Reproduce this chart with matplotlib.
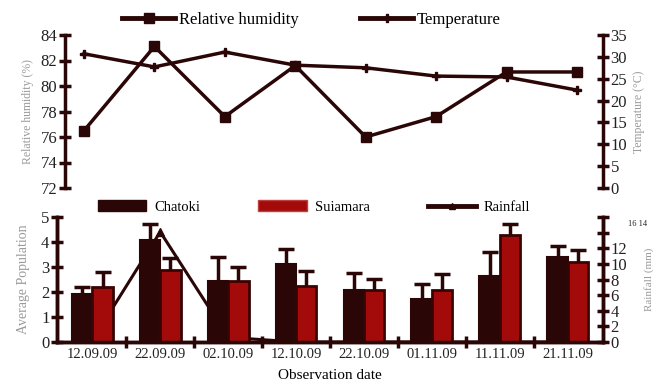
import matplotlib
matplotlib.use("Agg")
import matplotlib.pyplot as plt
import numpy as np
from matplotlib.lines import Line2D
from matplotlib.patches import Patch

dates = ["12.09.09", "22.09.09", "02.10.09", "12.10.09",
         "22.10.09", "01.11.09", "11.11.09", "21.11.09"]

humidity = [76.5, 83.1, 77.6, 81.6, 76.0, 77.6, 81.1, 81.1]
temperature = [30.7, 27.7, 31.1, 28.1, 27.5, 25.6, 25.4, 22.4]

chatoki = [1.92, 4.08, 2.44, 3.12, 2.08, 1.72, 2.64, 3.40]
chatoki_err = [0.28, 0.64, 0.96, 0.60, 0.68, 0.60, 0.96, 0.44]
suiamara = [2.20, 2.88, 2.44, 2.24, 2.08, 2.08, 4.28, 3.20]
suiamara_err = [0.60, 0.48, 0.56, 0.60, 0.44, 0.64, 0.44, 0.48]
rainfall = [0.2, 14.1, 0.6, 0.0, 0.0, 0.0, 0.0, 0.0]

dark = "#2a0606"
red = "#a30b0b"
grey = "#9a9a9a"

plt.rcParams["font.family"] = ["Liberation Serif", "DejaVu Serif"]
plt.rcParams["font.size"] = 10.5

x = np.arange(len(dates))

fig = plt.figure(figsize=(6.66, 3.9), dpi=100)

# top panel: humidity + temperature
ax_top = fig.add_axes([65/666, 1-188/390, 538/666, 153/390])
ax_temp = ax_top.twinx()

ax_top.plot(x, humidity, color=dark, lw=2.5, marker="s", ms=7, zorder=3)
ax_temp.plot(x, temperature, color=dark, lw=2.5, marker="P", ms=6)

ax_top.set_xlim(-0.27, 7.37)
ax_top.set_ylim(72, 84)
ax_top.set_yticks(np.arange(72, 85, 2))
ax_temp.set_ylim(0, 35)
ax_temp.set_yticks(np.arange(0, 36, 5))
ax_top.set_xticks([])

for a in (ax_top, ax_temp):
    for s in ("top", "bottom"):
        a.spines[s].set_visible(False)
    for s in ("left", "right"):
        a.spines[s].set_linewidth(2.5)
        a.spines[s].set_color(dark)
    a.tick_params(axis="y", direction="inout", length=9, width=2.5,
                  color=dark, pad=1, labelcolor="#222222", labelsize=12)
ax_temp.spines["left"].set_visible(False)
ax_top.spines["right"].set_visible(False)

ax_top.set_ylabel("Relative humidity (%)", color=grey, fontsize=8.5, labelpad=5)
ax_temp.set_ylabel("Temperature (°C)", color=grey, fontsize=8.5,
                   rotation=90, labelpad=4)

# bottom panel: population bars + rainfall
ax_bot = fig.add_axes([57/666, 1-342/390, 546/666, 125/390])
ax_rain = ax_bot.twinx()
ax_rain.set_zorder(ax_bot.get_zorder() - 1)
ax_bot.patch.set_visible(False)

w = 0.3
wet = [i for i, v in enumerate(rainfall) if v > 1]
ax_rain.plot(x, rainfall, color=dark, lw=2.2, marker="^", ms=6, markevery=wet)

ax_bot.errorbar(x - w/2, chatoki, yerr=chatoki_err, fmt="none",
                ecolor=dark, elinewidth=2.5, capsize=6, capthick=2.5, zorder=1)
ax_bot.errorbar(x + w/2, suiamara, yerr=suiamara_err, fmt="none",
                ecolor=dark, elinewidth=2.5, capsize=6, capthick=2.5, zorder=1)
ax_bot.bar(x - w/2, chatoki, w, color=dark, edgecolor=dark, lw=1.5, zorder=2)
ax_bot.bar(x + w/2, suiamara, w, color=red, edgecolor="#3a0303", lw=2, zorder=2)

ax_bot.set_xlim(-0.52, 7.52)
ax_bot.set_ylim(0, 5)
ax_bot.set_yticks(np.arange(0, 6, 1))
ax_bot.set_xticks(x)
ax_bot.set_xticklabels(dates)
ax_bot.set_xticks(x[:-1] + 0.5, minor=True)
ax_bot.tick_params(axis="x", which="major", length=0, pad=4, labelcolor="#222222")
ax_bot.tick_params(axis="x", which="minor", direction="inout", length=9,
                   width=2.5, color=dark)

ax_rain.set_ylim(0, 16)
ax_rain.set_yticks(np.arange(0, 17, 2))
ax_rain.set_yticklabels([str(v) for v in range(0, 13, 2)] + ["", ""])
ax_rain.text(1.045, 14.6 / 16, "16 14", transform=ax_rain.transAxes,
             fontsize=6, color="#222222", va="bottom")

for a in (ax_bot, ax_rain):
    a.spines["top"].set_visible(False)
    for s in ("left", "right", "bottom"):
        a.spines[s].set_linewidth(2.5)
        a.spines[s].set_color(dark)
    a.tick_params(axis="y", direction="inout", length=9, width=2.5,
                  color=dark, pad=1, labelcolor="#222222", labelsize=12)

ax_bot.set_ylabel("Average Population", color=grey, fontsize=10, labelpad=8)
ax_rain.set_ylabel("Rainfall (mm)", color=grey, fontsize=8,
                   rotation=90, labelpad=12)
ax_bot.set_xlabel("Observation date", fontsize=11, labelpad=6)

# legends
top_handles = [
    Line2D([], [], color=dark, lw=3.5, marker="s", ms=7),
    Line2D([], [], color=dark, lw=3.5, marker="P", ms=6),
]
fig.legend(top_handles, ["Relative humidity", "Temperature"], ncol=2,
           loc="center left", bbox_to_anchor=(107/666, 1-20/390), frameon=False,
           handlelength=3.2, columnspacing=3.7, fontsize=12, handletextpad=0.2)

bot_handles = [
    Patch(facecolor=dark, edgecolor=dark),
    Patch(facecolor=red, edgecolor="#c04040"),
    Line2D([], [], color=dark, lw=3.5, marker="^", ms=5),
]
fig.legend(bot_handles, ["Chatoki", "Suiamara", "Rainfall"], ncol=3,
           loc="center left", bbox_to_anchor=(85/666, 1-207/390), frameon=False,
           handlelength=3.3, handleheight=0.8, columnspacing=4.0,
           fontsize=10.5, handletextpad=0.55)

fig.savefig("out.png", dpi=100)
